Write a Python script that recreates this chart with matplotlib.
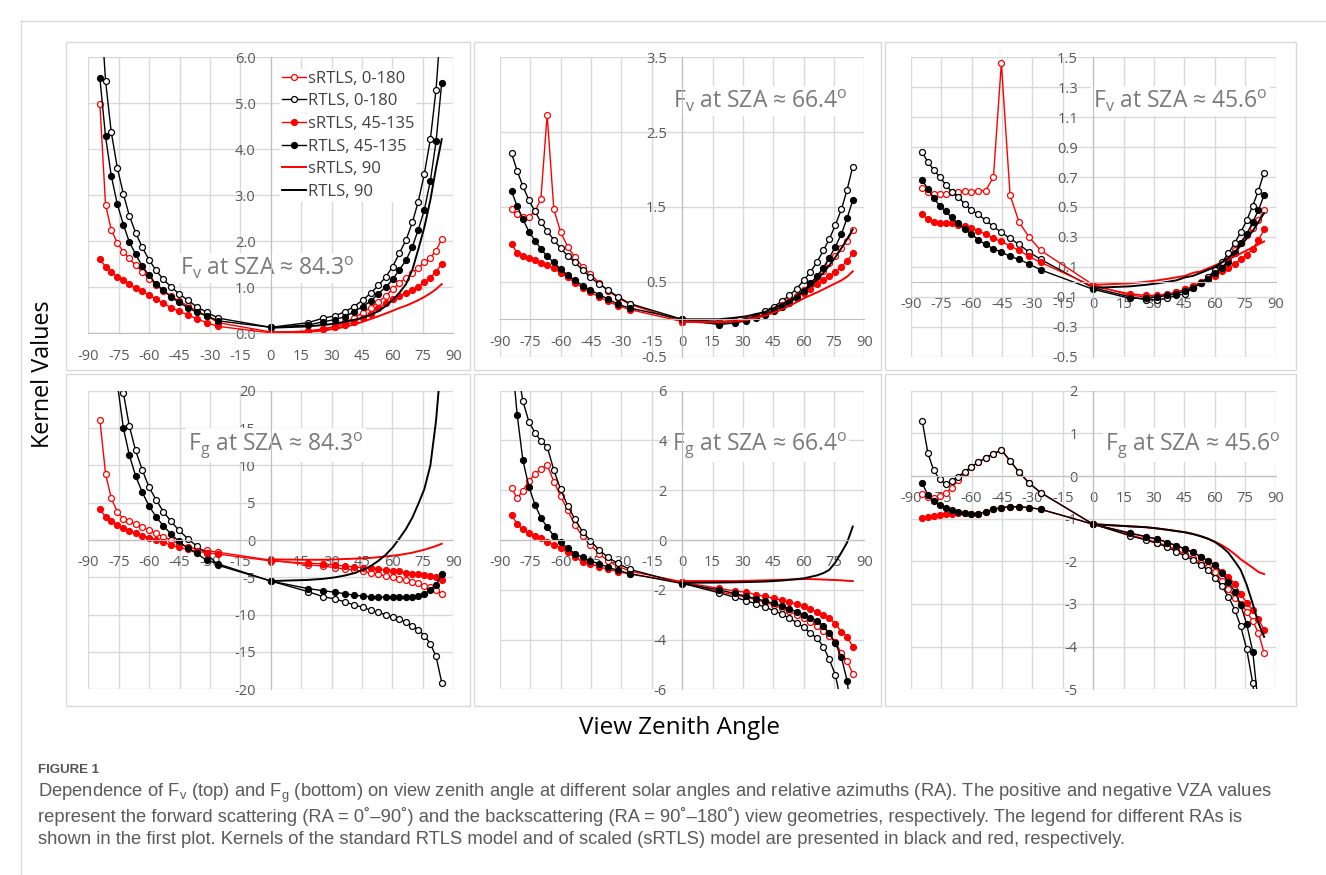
import numpy as np
import matplotlib
matplotlib.use("Agg")
import matplotlib.pyplot as plt
from matplotlib.lines import Line2D
from matplotlib.patches import Rectangle
from matplotlib import font_manager

plt.rcParams["font.family"] = ["Open Sans", "DejaVu Sans"]
plt.rcParams["axes.unicode_minus"] = False

# view zenith angles of the marker series, and of the RA = 90 curves
vza = [-84.3, -81.5, -78.7, -75.7, -72.7, -69.8, -66.7, -63.4, -60.1, -56.6, -53.0, -49.2,
       -45.3, -41.0, -36.6, -31.7, -25.9, 0.0, 18.2, 25.9, 31.7, 36.6, 41.0, 45.3, 49.2,
       53.0, 56.6, 60.1, 63.4, 66.7, 69.8, 72.7, 75.7, 78.7, 81.5, 84.3]
vza90 = [0.0, 18.2, 25.9, 31.7, 36.6, 41.0, 45.3, 49.2, 53.0, 56.6, 60.1, 63.4, 66.7,
         69.8, 72.7, 75.7, 78.7, 81.5, 84.3]

# Fv, SZA 84.3
fv84_s0180 = [4.99, 2.80, 2.25, 1.97, 1.77, 1.63, 1.48, 1.34, 1.19, 1.06, 0.92, 0.81, 0.70, 0.60, 0.49, 0.38, 0.23,
              0.03, 0.04, 0.10, 0.15, 0.24, 0.33, 0.45, 0.56, 0.68, 0.81, 0.96, 1.09, 1.21, 1.32, 1.42, 1.54, 1.64, 1.80, 2.05]
fv84_r0180 = [7.4, 5.49, 4.38, 3.60, 3.03, 2.56, 2.19, 1.87, 1.60, 1.37, 1.17, 1.01, 0.86, 0.72, 0.58, 0.46, 0.33,
              0.13, 0.23, 0.33, 0.38, 0.47, 0.58, 0.72, 0.87, 1.04, 1.22, 1.45, 1.74, 2.03, 2.41, 2.86, 3.46, 4.22, 5.30, 7.0]
fv84_s45 = [1.61, 1.45, 1.34, 1.23, 1.15, 1.07, 0.99, 0.91, 0.83, 0.74, 0.65, 0.56, 0.48, 0.40, 0.32, 0.23, 0.15,
            0.01, 0.05, 0.09, 0.14, 0.18, 0.25, 0.34, 0.43, 0.54, 0.65, 0.74, 0.81, 0.88, 0.94, 1.01, 1.11, 1.21, 1.34, 1.51]
fv84_r45 = [5.55, 4.28, 3.43, 2.81, 2.36, 1.99, 1.72, 1.46, 1.26, 1.07, 0.94, 0.79, 0.67, 0.56, 0.46, 0.38, 0.27,
            0.13, 0.18, 0.25, 0.30, 0.36, 0.47, 0.58, 0.70, 0.86, 1.00, 1.17, 1.38, 1.59, 1.88, 2.25, 2.68, 3.32, 4.17, 5.45]
fv84_s90 = [0.0, 0.03, 0.06, 0.10, 0.14, 0.19, 0.25, 0.31, 0.37, 0.43, 0.49, 0.55, 0.60, 0.66, 0.72, 0.79, 0.87, 0.96, 1.07]
fv84_r90 = [0.12, 0.15, 0.18, 0.21, 0.25, 0.29, 0.34, 0.40, 0.48, 0.59, 0.72, 0.88, 1.07, 1.38, 1.82, 2.3, 2.9, 3.6, 4.22]

# Fv, SZA 66.4
fv66_s0180 = [1.47, 1.40, 1.36, 1.37, 1.44, 1.61, 2.73, 1.47, 1.17, 0.97, 0.83, 0.70, 0.60, 0.49, 0.38, 0.29, 0.20,
              -0.03, -0.06, -0.04, -0.01, 0.03, 0.07, 0.12, 0.18, 0.24, 0.31, 0.39, 0.47, 0.56, 0.65, 0.75, 0.85, 0.95, 1.05, 1.19]
fv66_r0180 = [2.22, 1.98, 1.78, 1.59, 1.44, 1.30, 1.18, 1.06, 0.95, 0.85, 0.76, 0.66, 0.56, 0.47, 0.39, 0.30, 0.21,
              0.0, -0.03, -0.02, 0.01, 0.05, 0.11, 0.17, 0.24, 0.32, 0.41, 0.52, 0.63, 0.77, 0.92, 1.07, 1.26, 1.47, 1.73, 2.04]
fv66_s45 = [1.0, 0.89, 0.85, 0.82, 0.79, 0.75, 0.72, 0.68, 0.62, 0.56, 0.49, 0.42, 0.36, 0.30, 0.24, 0.18, 0.13,
            -0.03, -0.05, -0.02, 0.0, 0.03, 0.07, 0.12, 0.19, 0.24, 0.30, 0.35, 0.41, 0.47, 0.53, 0.58, 0.63, 0.70, 0.78, 0.88]
fv66_r45 = [1.71, 1.51, 1.34, 1.17, 1.05, 0.94, 0.84, 0.76, 0.67, 0.59, 0.52, 0.45, 0.39, 0.33, 0.27, 0.20, 0.15,
            0.0, -0.07, -0.05, -0.02, 0.02, 0.06, 0.11, 0.16, 0.22, 0.29, 0.38, 0.48, 0.58, 0.69, 0.82, 0.97, 1.14, 1.35, 1.59]
fv66_s90 = [-0.03, -0.04, -0.03, -0.01, 0.02, 0.05, 0.09, 0.13, 0.18, 0.23, 0.28, 0.32, 0.36, 0.40, 0.44, 0.48, 0.52, 0.57, 0.64]
fv66_r90 = [0.0, 0.0, 0.02, 0.04, 0.07, 0.10, 0.15, 0.20, 0.25, 0.31, 0.38, 0.45, 0.53, 0.62, 0.72, 0.83, 0.95, 1.07, 1.20]

# Fv, SZA 45.6
fv45_s0180 = [0.63, 0.60, 0.59, 0.59, 0.59, 0.60, 0.60, 0.61, 0.60, 0.61, 0.61, 0.70, 1.46, 0.58, 0.40, 0.30, 0.21,
              -0.02, -0.09, -0.10, -0.10, -0.09, -0.07, -0.05, -0.03, 0.0, 0.03, 0.07, 0.11, 0.16, 0.21, 0.26, 0.31, 0.36, 0.41, 0.48]
fv45_r0180 = [0.865, 0.80, 0.75, 0.70, 0.65, 0.60, 0.57, 0.52, 0.48, 0.45, 0.41, 0.37, 0.33, 0.29, 0.25, 0.20, 0.15,
              -0.04, -0.10, -0.12, -0.12, -0.11, -0.09, -0.08, -0.04, -0.01, 0.03, 0.08, 0.13, 0.19, 0.26, 0.33, 0.41, 0.51, 0.61, 0.73]
fv45_s45 = [0.45, 0.42, 0.40, 0.39, 0.39, 0.39, 0.38, 0.37, 0.36, 0.34, 0.32, 0.29, 0.27, 0.24, 0.21, 0.17, 0.13,
            -0.03, -0.08, -0.09, -0.09, -0.08, -0.07, -0.05, -0.03, -0.01, 0.02, 0.04, 0.07, 0.09, 0.12, 0.15, 0.18, 0.22, 0.28, 0.35]
fv45_r45 = [0.68, 0.62, 0.56, 0.51, 0.47, 0.43, 0.39, 0.35, 0.32, 0.28, 0.25, 0.22, 0.20, 0.17, 0.15, 0.12, 0.08,
            -0.05, -0.11, -0.11, -0.10, -0.09, -0.08, -0.06, -0.04, -0.01, 0.02, 0.06, 0.09, 0.13, 0.19, 0.26, 0.32, 0.40, 0.48, 0.58]
fv45_s90 = [-0.02, -0.01, 0.0, 0.01, 0.02, 0.03, 0.04, 0.06, 0.07, 0.09, 0.11, 0.13, 0.15, 0.17, 0.19, 0.21, 0.23, 0.25, 0.27]
fv45_r90 = [-0.04, -0.03, -0.02, -0.01, 0.0, 0.01, 0.03, 0.04, 0.06, 0.08, 0.10, 0.13, 0.16, 0.20, 0.24, 0.29, 0.34, 0.40, 0.46]

# Fg, SZA 84.3
fg84_s0180 = [16.1, 8.9, 5.6, 3.8, 2.8, 2.5, 2.1, 1.7, 1.3, 0.9, 0.4, 0.0, -0.5, -0.9, -1.2, -1.4, -1.65,
              -2.7, -3.3, -3.5, -3.7, -3.9, -4.0, -4.2, -4.4, -4.6, -4.8, -5.0, -5.2, -5.4, -5.6, -5.8, -6.1, -6.3, -6.7, -7.2]
fg84_r0180 = [50, 38, 30, 25, 19.7, 15.3, 12.0, 9.4, 7.1, 5.4, 3.8, 2.5, 1.3, 0.2, -0.8, -1.8, -3.4,
              -5.5, -6.9, -7.6, -7.9, -8.3, -8.7, -9.0, -9.4, -9.7, -10.0, -10.3, -10.6, -11.0, -11.5, -12.0, -12.8, -13.9, -15.6, -19.1]
fg84_s45 = [4.1, 3.1, 2.5, 2.0, 1.6, 1.25, 0.9, 0.6, 0.3, 0.0, -0.3, -0.7, -1.0, -1.25, -1.5, -1.7, -1.9,
            -2.8, -3.1, -3.2, -3.35, -3.5, -3.6, -3.7, -3.8, -3.9, -4.0, -4.15, -4.2, -4.4, -4.5, -4.6, -4.7, -4.8, -5.0, -5.3]
fg84_r45 = [45, 36, 28, 21, 15.0, 11.4, 8.6, 6.4, 4.6, 3.1, 1.9, 0.8, -0.2, -1.1, -1.8, -2.7, -3.2,
            -5.5, -6.5, -6.8, -7.0, -7.2, -7.4, -7.5, -7.6, -7.6, -7.7, -7.7, -7.7, -7.7, -7.6, -7.5, -7.2, -6.7, -6.0, -4.6]
fg84_s90 = [-2.6, -2.65, -2.65, -2.6, -2.55, -2.5, -2.45, -2.4, -2.3, -2.2, -2.1, -2.0, -1.85, -1.7, -1.5, -1.3, -1.05, -0.8, -0.5]
fg84_r90 = [-5.5, -5.35, -5.2, -5.0, -4.75, -4.45, -4.0, -3.5, -2.8, -2.0, -1.0, 0.2, 1.5, 3.0, 4.8, 6.8, 10.0, 16.0, 25.0]

# Fg, SZA 66.4
fg66_s0180 = [2.1, 1.67, 1.98, 2.38, 2.65, 2.85, 3.02, 2.35, 1.77, 1.20, 0.60, 0.15, -0.20, -0.55, -0.85, -1.05, -1.25,
              -1.68, -2.08, -2.2, -2.3, -2.4, -2.5, -2.62, -2.74, -2.86, -3.0, -3.15, -3.3, -3.47, -3.65, -3.85, -4.1, -4.55, -4.86, -5.38]
fg66_r0180 = [9.0, 6.95, 5.58, 4.75, 4.31, 3.98, 3.75, 2.81, 2.04, 1.38, 0.84, 0.33, -0.03, -0.40, -0.70, -0.94, -1.18,
              -1.74, -2.12, -2.30, -2.44, -2.57, -2.70, -2.84, -2.97, -3.15, -3.32, -3.51, -3.75, -3.95, -4.29, -4.8, -5.42, -6.6, -8.0, -10.0]
fg66_s45 = [1.0, 0.64, 0.43, 0.27, 0.16, 0.07, -0.07, -0.2, -0.33, -0.5, -0.7, -0.87, -0.96, -1.07, -1.18, -1.27, -1.37,
            -1.7, -1.94, -2.05, -2.1, -2.2, -2.27, -2.35, -2.42, -2.5, -2.58, -2.67, -2.78, -2.9, -3.0, -3.15, -3.37, -3.68, -3.88, -4.29]
fg66_r45 = [7.5, 5.02, 3.21, 2.14, 1.41, 0.90, 0.51, 0.17, -0.09, -0.33, -0.55, -0.70, -0.85, -0.95, -1.10, -1.22, -1.35,
            -1.75, -2.0, -2.15, -2.26, -2.36, -2.45, -2.55, -2.65, -2.76, -2.88, -3.0, -3.12, -3.25, -3.45, -3.75, -4.15, -4.72, -5.65, -7.5]
fg66_s90 = [-1.65, -1.65, -1.65, -1.64, -1.63, -1.62, -1.61, -1.60, -1.59, -1.58, -1.57, -1.57, -1.58, -1.59, -1.60, -1.61, -1.62, -1.64, -1.65]
fg66_r90 = [-1.72, -1.71, -1.70, -1.69, -1.68, -1.67, -1.65, -1.63, -1.60, -1.57, -1.54, -1.48, -1.42, -1.33, -1.2, -0.9, -0.5, -0.1, 0.54]

# Fg, SZA 45.6
fg45_s0180 = [-0.42, -0.5, -0.52, -0.46, -0.40, -0.28, -0.10, 0.06, 0.22, 0.32, 0.43, 0.52, 0.61, 0.36, 0.09, -0.16, -0.39,
              -1.13, -1.38, -1.48, -1.56, -1.64, -1.73, -1.83, -1.92, -2.03, -2.14, -2.25, -2.45, -2.65, -2.85, -3.0, -3.18, -3.4, -3.68, -4.15]
fg45_r0180 = [1.29, 0.53, 0.14, -0.08, -0.19, -0.12, -0.02, 0.10, 0.22, 0.32, 0.43, 0.52, 0.61, 0.36, 0.09, -0.16, -0.39,
              -1.13, -1.40, -1.50, -1.58, -1.67, -1.77, -1.88, -1.97, -2.09, -2.20, -2.38, -2.58, -2.83, -3.13, -3.52, -4.06, -4.86, -6.0, -7.5]
fg45_s45 = [-0.98, -0.95, -0.94, -0.91, -0.90, -0.88, -0.86, -0.86, -0.88, -0.88, -0.84, -0.78, -0.74, -0.72, -0.72, -0.74, -0.78,
            -1.13, -1.34, -1.42, -1.48, -1.56, -1.63, -1.71, -1.79, -1.89, -1.99, -2.09, -2.24, -2.36, -2.53, -2.77, -2.97, -3.15, -3.35, -3.61]
fg45_r45 = [-0.17, -0.45, -0.59, -0.68, -0.74, -0.80, -0.84, -0.86, -0.88, -0.88, -0.84, -0.78, -0.74, -0.72, -0.72, -0.74, -0.78,
            -1.13, -1.34, -1.42, -1.48, -1.56, -1.63, -1.71, -1.79, -1.89, -1.99, -2.09, -2.28, -2.48, -2.71, -3.02, -3.47, -4.12, -5.4, -7.0]
fg45_s90 = [-1.13, -1.18, -1.2, -1.23, -1.26, -1.29, -1.32, -1.36, -1.41, -1.47, -1.54, -1.62, -1.72, -1.83, -1.95, -2.05, -2.15, -2.25, -2.3]
fg45_r90 = [-1.13, -1.18, -1.2, -1.23, -1.26, -1.29, -1.32, -1.36, -1.41, -1.47, -1.55, -1.66, -1.8, -2.0, -2.2, -2.55, -3.0, -3.45, -3.77]

labels = ["sRTLS, 0-180", "RTLS, 0-180", "sRTLS, 45-135", "RTLS, 45-135", "sRTLS, 90", "RTLS, 90"]

W, H = 1326, 875
fig = plt.figure(figsize=(W / 100, H / 100), dpi=100)


def px_rect(x0, y0, x1, y1):
    return [x0 / W, 1 - y1 / H, (x1 - x0) / W, (y1 - y0) / H]


panels = [
    dict(data=(fv84_s0180, fv84_r0180, fv84_s45, fv84_r45, fv84_s90, fv84_r90),
         rect=(88.3, 57.3, 453.3, 333.3), box=(66, 42, 470, 370),
         ylim=(0, 6), step=1.0, fmt="{:.1f}", sub="v", sza="84.3", tpos=(0.251, 0.211)),
    dict(data=(fv66_s0180, fv66_r0180, fv66_s45, fv66_r45, fv66_s90, fv66_r90),
         rect=(500, 57.3, 864.3, 356.7), box=(474, 42, 881, 370),
         ylim=(-0.5, 3.5), step=1.0, fmt="{:.1f}", sub="v", sza="66.4", tpos=(0.474, 0.830)),
    dict(data=(fv45_s0180, fv45_r0180, fv45_s45, fv45_r45, fv45_s90, fv45_r90),
         rect=(910.7, 57.3, 1275.7, 356.7), box=(885, 42, 1296, 370),
         ylim=(-0.5, 1.5), step=0.2, fmt="{:.1f}", sub="v", sza="45.6", tpos=(0.500, 0.830)),
    dict(data=(fg84_s0180, fg84_r0180, fg84_s45, fg84_r45, fg84_s90, fg84_r90),
         rect=(88.3, 390.7, 453.3, 689.3), box=(66, 374, 470, 706),
         ylim=(-20, 20), step=5, fmt="{:.0f}", sub="g", sza="84.3", tpos=(0.274, 0.801)),
    dict(data=(fg66_s0180, fg66_r0180, fg66_s45, fg66_r45, fg66_s90, fg66_r90),
         rect=(500, 390.7, 864.3, 689.3), box=(474, 374, 881, 706),
         ylim=(-6, 6), step=2, fmt="{:.0f}", sub="g", sza="66.4", tpos=(0.471, 0.801)),
    dict(data=(fg45_s0180, fg45_r0180, fg45_s45, fg45_r45, fg45_s90, fg45_r90),
         rect=(910.7, 390.7, 1275.7, 689.3), box=(885, 374, 1296, 706),
         ylim=(-5, 2), step=1, fmt="{:.0f}", sub="g", sza="45.6", tpos=(0.532, 0.801)),
]

styles = [
    dict(color="red", marker="o", mfc="white"),
    dict(color="black", marker="o", mfc="white"),
    dict(color="red", marker="o", mfc="red"),
    dict(color="black", marker="o", mfc="black"),
    dict(color="red"),
    dict(color="black"),
]

grid_c = "#d9d9d9"
for i, p in enumerate(panels):
    x0, y0, x1, y1 = p["box"]
    fig.add_artist(Rectangle((x0 / W, 1 - y1 / H), (x1 - x0) / W, (y1 - y0) / H,
                             transform=fig.transFigure, fill=False, ec=grid_c, lw=1))
    ax = fig.add_axes(px_rect(*p["rect"]))
    lines = []
    for k, (vals, st) in enumerate(zip(p["data"], styles)):
        xs = vza if k < 4 else vza90
        if k < 4:
            ln, = ax.plot(xs, vals, lw=1.0, ms=4.3, mew=0.9, **st)
        else:
            ln, = ax.plot(xs, vals, lw=1.4, **st)
        lines.append(ln)

    ax.set_xlim(-90, 90)
    ax.set_ylim(*p["ylim"])
    ax.set_xticks(np.arange(-90, 91, 15))
    yt = np.arange(p["ylim"][0], p["ylim"][1] + p["step"] / 2, p["step"])
    ax.set_yticks(yt)
    ax.set_yticklabels([p["fmt"].format(v + 0.0) for v in yt])
    for s in ["top", "right"]:
        ax.spines[s].set_visible(False)
    ax.spines["left"].set_position(("data", 0))
    ax.spines["bottom"].set_position(("data", 0))
    ax.spines["left"].set_color("#bfbfbf")
    ax.spines["bottom"].set_color("#bfbfbf")
    ax.tick_params(length=0, labelsize=10.5, labelcolor="#595959", pad=11)
    ax.grid(True, color=grid_c, lw=1)
    ax.set_axisbelow(True)
    ax.patch.set_alpha(0)

    title = r"F$_\mathregular{%s}$ at SZA ≈ %s$^\mathregular{o}$" % (p["sub"], p["sza"])
    ax.text(p["tpos"][0], p["tpos"][1], title, transform=ax.transAxes, fontsize=16.5,
            color="#7a7a7a", ha="left", va="baseline", zorder=1,
            bbox=dict(fc="white", ec="none", pad=1.5))

    if i == 0:
        ax.legend(lines, labels, loc="upper left", bbox_to_anchor=(0.526, 0.958),
                  frameon=True, facecolor="white", edgecolor="none", framealpha=1,
                  borderpad=0.1, borderaxespad=0, handlelength=1.45, handletextpad=0.12,
                  labelspacing=0.4, fontsize=12, labelcolor="#404040")

fig.text(43 / W, 1 - 374 / H, "Kernel Values", rotation=90, ha="center", va="center", fontsize=16.8)
fig.text(680 / W, 1 - 728 / H, "View Zenith Angle", ha="center", va="center", fontsize=17.5)

# outer frame
fig.add_artist(Line2D([21 / W, 1], [1 - 21 / H, 1 - 21 / H], transform=fig.transFigure, color=grid_c, lw=1))
fig.add_artist(Line2D([21 / W, 21 / W], [0, 1 - 21 / H], transform=fig.transFigure, color=grid_c, lw=1))

# caption
installed = {f.name for f in font_manager.fontManager.ttflist}
cap_font = "Liberation Sans Narrow" if "Liberation Sans Narrow" in installed else "Liberation Sans"
fig.text(38 / W, 1 - 770 / H, "FIGURE 1", fontsize=9.5, fontweight="bold", color="#555555",
         va="center", family=[cap_font, "DejaVu Sans"])
cap_lines = [
    r"Dependence of F$_\mathregular{v}$ (top) and F$_\mathregular{g}$ (bottom) on view zenith angle at different solar angles and relative azimuths (RA). The positive and negative VZA values",
    "represent the forward scattering (RA = 0˚–90˚) and the backscattering (RA = 90˚–180˚) view geometries, respectively. The legend for different RAs is",
    "shown in the first plot. Kernels of the standard RTLS model and of scaled (sRTLS) model are presented in black and red, respectively.",
]
cap_width = [1227, 1272, 1112]
caps = []
for t, yy in zip(cap_lines, [793, 817, 840]):
    caps.append(fig.text(38 / W, 1 - yy / H, t, fontsize=12, color="#5a5a5a", va="center",
                         family=[cap_font, "DejaVu Sans"]))
fig.canvas.draw()
scale = min(wt / c.get_window_extent().width for c, wt in zip(caps, cap_width))
for c in caps:
    c.set_fontsize(12 * scale)

fig.savefig("out.png", dpi=100)
